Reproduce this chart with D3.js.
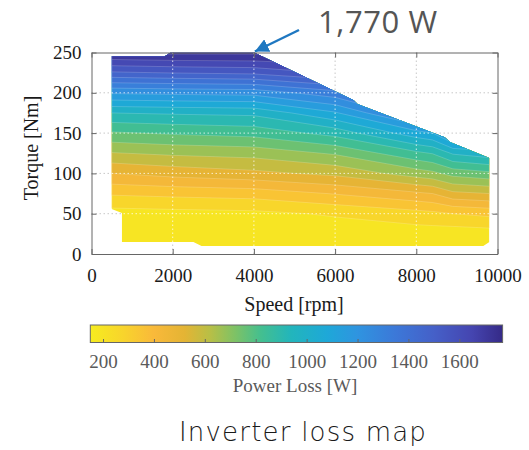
<!DOCTYPE html>
<meta charset="utf-8">
<style>
body { margin: 0; background: #fff; }
</style>
<body>
<script src="https://d3js.org/d3.v7.min.js"></script>
<script>

// loss table grid: speed columns [rpm], torque rows [Nm]
var speeds  = [500, 2000, 4000, 6000, 8000, 8400, 8900, 9800];
var torques = [0, 25, 50, 75, 100, 125, 150, 175, 200, 225, 250];

// inverter power loss [W], one row per torque (bottom to top)
var loss = [
  [ 150,  151,  152,  153,  155,  155,  155,  156],
  [ 168,  172,  175,  178,  188,  188,  183,  190],
  [ 195,  202,  210,  240,  280,  290,  310,  330],
  [ 320,  332,  345,  395,  455,  470,  530,  550],
  [ 470,  500,  530,  570,  670,  690,  740,  770],
  [ 625,  645,  660,  720,  850,  875,  960, 1000],
  [ 780,  800,  820,  900, 1080, 1110, 1250, 1250],
  [ 950,  960,  970, 1100, 1330, 1360, 1480, 1480],
  [1200, 1210, 1220, 1320, 1580, 1600, 1700, 1700],
  [1500, 1515, 1530, 1600, 1770, 1770, 1770, 1770],
  [1760, 1770, 1770, 1770, 1770, 1770, 1770, 1770]
];

// operating envelope of the drive
var envSpeed  = [480, 1800, 1950, 4000, 6450, 6550, 8700, 8830, 9800, 9800, 9650, 2710, 2510, 750, 750, 480];
var envTorque = [245,  245,  250,  250,  191,  186,  145,  139,  119,   15,   10,   10,   15,  15,  51,  56];

var lossLevels = [150, 230, 310, 390, 470, 550, 630, 710, 790, 870, 950, 1030, 1110, 1190, 1270, 1350, 1430, 1510, 1590, 1670, 1750];
var lossMax = 1770;

// colormap (reversed parula look)
var cmapLoss  = [150, 280, 400, 520, 620, 720, 820, 940, 1080, 1200, 1350, 1500, 1650, 1770];
var cmapColor = ["#f6ec1f", "#f8d42c", "#f9b93a", "#e4b434", "#b8bf46", "#7dc266", "#44bf8f",
                 "#22b5bc", "#1ea8d8", "#2f94e0", "#3c78d8", "#4560c8", "#4545b0", "#352a87"];

var xTicks = [0, 2000, 4000, 6000, 8000, 10000];
var yTicks = [0, 50, 100, 150, 200, 250];
var cbarTicks = [200, 400, 600, 800, 1000, 1200, 1400, 1600];

var width = 529, height = 450;
var serif = "'Liberation Serif', 'Times New Roman', serif";

var svg = d3.select("body").append("svg")
    .attr("width", width)
    .attr("height", height);

var x = d3.scaleLinear().domain([0, 10000]).range([91.5, 497.5]);
var y = d3.scaleLinear().domain([0, 250]).range([254, 52.5]);
var color = d3.scaleLinear().domain(cmapLoss).range(cmapColor).clamp(true);

// grid index -> data coordinates (piecewise along the table axes)
var colSpeed = d3.scaleLinear().domain(d3.range(speeds.length)).range(speeds).clamp(true);
var rowTorque = d3.scaleLinear().domain(d3.range(torques.length)).range(torques).clamp(true);
var proj = d3.geoTransform({
  point: function(px, py) {
    this.stream.point(x(colSpeed(px - 0.5)), y(rowTorque(py - 0.5)));
  }
});
var path = d3.geoPath(proj);

var values = [];
loss.forEach(function(row) { row.forEach(function(v) { values.push(v); }); });

var bands = d3.contours()
    .size([speeds.length, torques.length])
    .thresholds(lossLevels)(values);

// envelope clip
var envPts = envSpeed.map(function(s, i) { return [x(s), y(envTorque[i])]; });
svg.append("clipPath").attr("id", "env")
  .append("path")
    .attr("d", d3.line()(envPts) + "Z");

function drawGrid(g, stroke, op) {
  g.selectAll(".gx").data(xTicks.slice(1, -1)).enter().append("line")
      .attr("x1", function(d) { return x(d); }).attr("x2", function(d) { return x(d); })
      .attr("y1", y(0)).attr("y2", y(250));
  g.selectAll(".gy").data(yTicks.slice(1, -1)).enter().append("line")
      .attr("y1", function(d) { return y(d); }).attr("y2", function(d) { return y(d); })
      .attr("x1", x(0)).attr("x2", x(10000));
  g.selectAll("line")
      .attr("stroke", stroke)
      .attr("stroke-opacity", op)
      .attr("stroke-width", 1)
      .attr("stroke-dasharray", "1.5,2.5");
}
// grid under the map (seen on white)
drawGrid(svg.append("g"), "#c8c8c8", 1);

// filled contour bands
var map = svg.append("g").attr("clip-path", "url(#env)");
map.selectAll("path")
  .data(bands)
  .enter().append("path")
    .attr("d", path)
    .attr("fill", function(d, i) {
      var hi = i + 1 < lossLevels.length ? lossLevels[i + 1] : lossMax;
      return color((d.value + hi) / 2);
    })
    .attr("stroke", "#fff")
    .attr("stroke-opacity", 0.3)
    .attr("stroke-width", 0.6);

// grid over the map
drawGrid(svg.append("g").attr("clip-path", "url(#env)"), "#fff", 0.75);

function styleAxis(g, fill) {
  g.selectAll("path, line").attr("stroke", "#666");
  g.selectAll("text")
      .attr("font-family", null)
      .style("font-family", serif)
      .style("font-size", "19px")
      .style("fill", fill);
}

var fmt = d3.format("d");

// axes, ticks inward, box
svg.append("g")
    .attr("transform", "translate(0," + y(0) + ")")
    .call(d3.axisBottom(x).tickValues(xTicks).tickFormat(fmt).tickSizeInner(-5).tickSizeOuter(0).tickPadding(15))
    .call(styleAxis, "#1a1a1a");
svg.append("g")
    .attr("transform", "translate(" + x(0) + ",0)")
    .call(d3.axisLeft(y).tickValues(yTicks).tickFormat(fmt).tickSizeInner(-5).tickSizeOuter(0).tickPadding(10))
    .call(styleAxis, "#1a1a1a");
svg.append("g")
    .attr("transform", "translate(0," + y(250) + ")")
    .call(d3.axisTop(x).tickValues(xTicks).tickSizeInner(-5).tickSizeOuter(0).tickFormat(""))
    .call(styleAxis, "#1a1a1a");
svg.append("g")
    .attr("transform", "translate(" + x(10000) + ",0)")
    .call(d3.axisRight(y).tickValues(yTicks).tickSizeInner(-5).tickSizeOuter(0).tickFormat(""))
    .call(styleAxis, "#1a1a1a");

svg.append("text")
    .attr("x", 294).attr("y", 311)
    .attr("text-anchor", "middle")
    .style("font-family", serif).style("font-size", "20px").style("fill", "#1a1a1a")
    .text("Speed [rpm]");

svg.append("text")
    .attr("transform", "translate(38,148) rotate(-90)")
    .attr("text-anchor", "middle")
    .style("font-family", serif).style("font-size", "20px").style("fill", "#1a1a1a")
    .text("Torque [Nm]");

// colorbar
var cx = d3.scaleLinear().domain([150, lossMax]).range([90.3, 502.6]);
var cbTop = 325, cbH = 17.5;
var grad = svg.append("defs").append("linearGradient").attr("id", "cbgrad");
cmapLoss.forEach(function(v, i) {
  grad.append("stop")
      .attr("offset", (v - 150) / (lossMax - 150))
      .attr("stop-color", cmapColor[i]);
});
svg.append("rect")
    .attr("x", cx(150)).attr("y", cbTop)
    .attr("width", cx(lossMax) - cx(150)).attr("height", cbH)
    .attr("fill", "url(#cbgrad)")
    .attr("stroke", "#666").attr("stroke-width", 1);

var cb = svg.append("g")
    .attr("transform", "translate(0," + (cbTop + cbH) + ")")
    .call(d3.axisBottom(cx).tickValues(cbarTicks).tickFormat(fmt).tickSizeInner(-3.5).tickSizeOuter(0).tickPadding(12.5))
    .call(styleAxis, "#5a5a5a");
cb.select(".domain").remove();

svg.append("text")
    .attr("x", 295).attr("y", 392)
    .attr("text-anchor", "middle")
    .style("font-family", serif).style("font-size", "19px").style("fill", "#5a5a5a")
    .text("Power Loss [W]");

// caption
svg.append("text")
    .attr("x", 303).attr("y", 441)
    .attr("text-anchor", "middle")
    .style("font-family", "'DejaVu Sans', sans-serif").style("font-weight", 200)
    .style("font-size", "26px").style("letter-spacing", "1.2px").style("fill", "#1a1a1a")
    .text("Inverter loss map");

// peak annotation
svg.append("defs").append("marker")
    .attr("id", "head").attr("viewBox", "0 0 10 10")
    .attr("refX", 10).attr("refY", 5)
    .attr("markerWidth", 5.5).attr("markerHeight", 5.5)
    .attr("markerUnits", "strokeWidth")
    .attr("orient", "auto")
  .append("path").attr("d", "M0,0L10,5L0,10Z").attr("fill", "#1f78c1");

svg.append("line")
    .attr("x1", 299).attr("y1", 30)
    .attr("x2", x(4000) + 1).attr("y2", y(250) - 1)
    .attr("stroke", "#1f78c1").attr("stroke-width", 2.5)
    .attr("marker-end", "url(#head)");

svg.append("text")
    .attr("x", 318).attr("y", 33)
    .style("font-family", "'Open Sans', sans-serif").style("font-size", "31px")
    .style("letter-spacing", "0.6px").style("fill", "#555")
    .text("1,770 W");

</script>
</body>
